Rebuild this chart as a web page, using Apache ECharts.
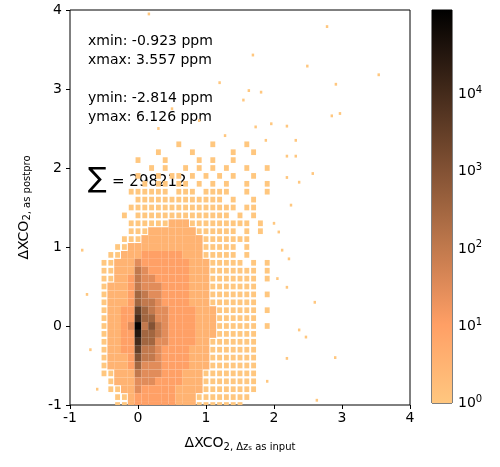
<!DOCTYPE html>
<html><head><meta charset="utf-8">
<script src="https://cdn.jsdelivr.net/npm/echarts@6/dist/echarts.min.js"></script>
<style>html,body{margin:0;padding:0;background:#fff}#c{width:500px;height:467px}</style>
</head><body><div id="c"></div>
<script>
// Bin size 0.1. Each row: "left|ridge|right"; ridge cell is at x=0.
// chars: '.' empty, digit d => count 10^(d/2), 'a' => 10^5
const binSize = 0.1;
const rowY = [2.3,2.2,2.1,2.0,1.9,1.8,1.7,1.6,1.5,1.4,1.3,1.2,1.1,1.0,0.9,0.8,0.7,0.6,0.5,0.4,0.3,0.2,0.1,0.0,-0.1,-0.2,-0.3,-0.4,-0.5,-0.6,-0.7,-0.8,-0.9,-1.0];
const rows = [
".|.|.....0....0....0",
"...|.|..0....0.....0..0",
".|0|...0....0.0..0",
"..|.|.0.0..0.0.0.0..0..0",
"|0|..0.00.0.0.0.0..0",
"|.|0.00.00.0.0.0..0..0",
"0|0|0000.000.0000..0..0",
"|0|000000000000.0..0",
"0|0|00000000000000.00",
"0.|0|0000000000000.0.0",
"0|0|0000111000000000.0",
"0|0|01111111000000.0.0",
"00|0|1111111110000000",
"001|1|11111111100000.0",
"0011|1|22222211100000.0",
"00111|3|222222211100000.0.0",
"00111|4|32222221110000000.0",
"00112|4|33222221110000000.0",
"01112|4|33322221110000000",
"01112|5|43322221110000000.0",
"01112|5|44322221110000000",
"01122|7|54332222111000000.0",
"01122|8|55332222111000000",
"01123|a|46432222111000000.0",
"01122|9|55432222111000000",
"01122|8|55332222110000000",
"01122|7|44322221110000000",
"01112|6|44322221110000000",
"01112|5|33322221110000000",
"00111|4|33322211100000000",
".0111|3|33222211100000000",
".0011|3|22222111100000000",
"..001|2|2222211100000000",
"..001|2|222221110000000"
];
// isolated single-count cells [x, y]
const sparse = [[0.16,3.95],[2.78,3.79],[1.69,3.43],[2.49,3.29],[3.54,3.18],[2.91,3.06],[1.2,3.08],[1.63,2.98],[1.81,2.96],[1.55,2.86],[2.85,2.66],[2.97,2.69],[1.73,2.52],[1.96,2.56],[2.19,2.53],[2.32,2.35],[1.88,2.35],[1.28,2.41],[2.57,1.93],[2.37,1.82],[2.19,1.88],[2.19,2.15],[2.32,2.15],[-0.82,0.96],[2.19,0.49],[2.05,0.6],[2.37,-0.05],[2.47,-0.14],[2.19,-0.41],[2.63,-0.94],[2.22,0.85],[2.12,0.96],[2.07,1.19],[2.25,1.53],[2.0,1.3],[2.6,0.3],[2.9,-0.4],[1.9,-0.7],[-0.7,-0.3],[-0.75,0.4],[-0.6,-0.8],[0.9,2.6],[0.5,2.75],[0.3,2.5]];
const cbTicks = [0,1,2,3,4];

function lvl(ch){ return ch==='a' ? 10 : parseInt(ch,10); }
const cells = [];
rows.forEach((s,i)=>{
  const y = rowY[i];
  const [L,R,Rt] = s.split('|');
  for(let j=0;j<L.length;j++){ const ch=L[L.length-1-j]; if(ch!=='.') cells.push([-(j+1)*binSize, y, lvl(ch)/2, 0]); }
  if(R!=='.') cells.push([0,y,lvl(R)/2,0]);
  for(let j=0;j<Rt.length;j++){ const ch=Rt[j]; if(ch!=='.') cells.push([(j+1)*binSize, y, lvl(ch)/2, 0]); }
});
sparse.forEach(p=>cells.push([p[0], p[1], 0, 1]));

// copper_r colormap stops
const stops=[];
for(let i=0;i<=20;i++){const t=1-i/20;const r=Math.min(1,1.25*t),g=0.7812*t,b=0.4975*t;
 stops.push('rgb('+Math.round(r*255)+','+Math.round(g*255)+','+Math.round(b*255)+')');}
const vmax=5.1;
const grad=new echarts.graphic.LinearGradient(0,1,0,0,stops.map((c,i)=>({offset:i/20,color:c})));

const chart=echarts.init(document.getElementById('c'));
const F='DejaVu Sans';
chart.setOption({
  animation:false,
  textStyle:{fontFamily:F},
  grid:[{left:70,right:90,top:10,bottom:62,show:true,borderColor:'#000',borderWidth:1},
        {left:432,width:20,top:10,bottom:64,show:true,borderColor:'#000',borderWidth:1}],
  xAxis:[{type:'value',min:-1,max:4,interval:1,gridIndex:0,
    axisLine:{show:false,onZero:false},axisTick:{show:true,length:4,lineStyle:{color:'#000'}},splitLine:{show:false},
    axisLabel:{color:'#000',fontSize:14,margin:6},
    name:'{a|ΔXCO}{s|2, Δz}{ss|s}{s| as input}',nameLocation:'middle',nameGap:30,
    nameTextStyle:{rich:{a:{fontSize:14,color:'#000',fontFamily:F},s:{fontSize:10,color:'#000',fontFamily:F,verticalAlign:'bottom',padding:[6,0,0,0]},ss:{fontSize:7,color:'#000',fontFamily:F,padding:[10,0,0,0]}}}},
   {type:'category',gridIndex:1,data:['c'],show:false}],
  yAxis:[{type:'value',min:-1,max:4,interval:1,gridIndex:0,
    axisLine:{show:false,onZero:false},axisTick:{show:true,length:4,lineStyle:{color:'#000'}},splitLine:{show:false},
    axisLabel:{color:'#000',fontSize:14,margin:8},
    name:'{a|ΔXCO}{s|2, as postpro}',nameLocation:'middle',nameGap:38,nameRotate:90,
    nameTextStyle:{rich:{a:{fontSize:14,color:'#000',fontFamily:F},s:{fontSize:10,color:'#000',fontFamily:F,padding:[6,0,0,0]}}}},
   {type:'value',gridIndex:1,min:0,max:vmax,position:'right',
    axisLine:{show:false,onZero:false},splitLine:{show:false},
    axisLabel:{color:'#000',margin:6,customValues:cbTicks,formatter:v=>'{b|10}{e|'+v+'}',
      rich:{b:{fontSize:14,color:'#000',fontFamily:F},e:{fontSize:10,color:'#000',fontFamily:F,verticalAlign:'top',padding:[0,0,8,0]}}},
    axisTick:{customValues:cbTicks,length:4,lineStyle:{color:'#000'}}}],
  visualMap:{show:false,min:0,max:vmax,dimension:2,seriesIndex:0,inRange:{color:stops}},
  series:[{type:'custom',xAxisIndex:0,yAxisIndex:0,data:cells,clip:true,
    renderItem:(params,api)=>{
      const x=api.value(0),y=api.value(1),v=api.value(2),sp=api.value(3);
      const h = sp ? 0.018 : (v===0 ? 0.036 : binSize/2);
      const p1=api.coord([x-h,y+h]),p2=api.coord([x+h,y-h]);
      const r=echarts.graphic.clipRectByRect({x:p1[0],y:p1[1],width:p2[0]-p1[0],height:p2[1]-p1[1]},
        {x:params.coordSys.x,y:params.coordSys.y,width:params.coordSys.width,height:params.coordSys.height});
      if(!r) return;
      return {type:'rect',shape:r,style:{fill:api.visual('color')}};
    }},
   {type:'bar',xAxisIndex:1,yAxisIndex:1,data:[vmax],barWidth:'100%',itemStyle:{color:grad},silent:true}],
  graphic:[
    {type:'text',left:88,top:32,style:{text:'xmin: -0.923 ppm\nxmax: 3.557 ppm',fontSize:14,lineHeight:19,fill:'#000',fontFamily:F}},
    {type:'text',left:88,top:89,style:{text:'ymin: -2.814 ppm\nymax: 6.126 ppm',fontSize:14,lineHeight:19,fill:'#000',fontFamily:F}},
    {type:'text',left:88,top:166,style:{text:'∑',fontSize:28,fill:'#000',fontFamily:F}},
    {type:'text',left:112,top:175,style:{text:'= 298212',fontSize:15,fill:'#000',fontFamily:F}}
  ]
});
</script></body></html>
